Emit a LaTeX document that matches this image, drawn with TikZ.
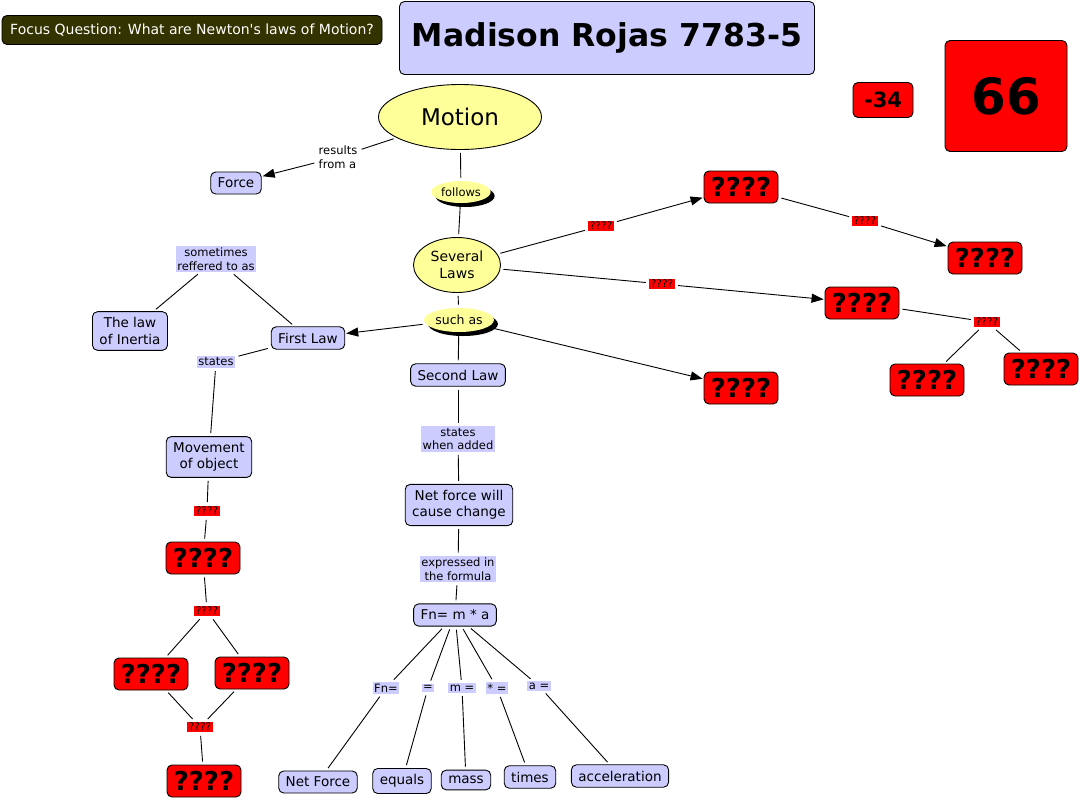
\documentclass[tikz,border=0pt]{standalone}
\usepackage{fontspec}
\setmainfont{DejaVu Sans}
\usetikzlibrary{arrows.meta, shapes.geometric, shadows}
\definecolor{lav}{HTML}{CCCCFF}
\definecolor{pale}{HTML}{FFFF99}
\definecolor{olive}{HTML}{333300}
\newcommand{\fs}[1]{\fontsize{#1}{1.2\dimexpr#1pt\relax}\selectfont}

\begin{document}
\begin{tikzpicture}[x=1pt, y=-1pt, line width=0.9pt,
    concept/.style={draw, rounded corners=5pt, fill=lav, font=\fs{13.5}, align=center,
      inner xsep=7pt, inner ysep=6pt},
    unknown/.style={draw, rounded corners=5pt, fill=red, font=\fs{26}\bfseries,
      minimum width=74pt, minimum height=32pt, inner sep=0pt},
    oval/.style={ellipse, draw, fill=pale, align=center, inner sep=0pt},
    shadowed/.style={ellipse, fill=pale, font=\fs{11.5}, inner sep=1pt,
      drop shadow={shadow xshift=4pt, shadow yshift=-4pt, fill=black, opacity=1}},
    linkname/.style={fill=lav, font=\fs{11.5}, align=center, inner sep=1.5pt},
    redlink/.style={fill=red, font=\fs{10.5}, inner sep=1.5pt},
    score/.style={draw, rounded corners=5pt, fill=red, font=\bfseries, inner sep=0pt},
    link/.style={shorten <=3pt, shorten >=3pt},
    arr/.style={shorten <=3pt, shorten >=1pt, -{Triangle[length=12pt, width=9pt]}}]
  \useasboundingbox (0,0) rectangle (1080,801);

  % header
  \node[draw, rounded corners=5pt, fill=olive, text=white, font=\fs{14},
    minimum width=380pt, minimum height=29pt] (focus) at (192,30)
    {Focus Question: What are Newton\textquotesingle s laws of Motion?};
  \node[draw, rounded corners=5pt, fill=lav, font=\fs{31.5}\bfseries,
    minimum width=415pt, minimum height=73pt] (name) at (607,38) {Madison Rojas 7783-5};
  \node[score, font=\fs{21}\bfseries, minimum width=60pt, minimum height=35pt] (minus) at (883,100) {-34};
  \node[score, font=\fs{50}\bfseries, minimum width=122pt, minimum height=111pt] (total) at (1006,96) {66};

  % concepts
  \node[oval, font=\fs{23}, minimum width=163pt, minimum height=65pt] (motion) at (460,117) {Motion};
  \node[fill=white, font=\fs{11.5}, align=left, inner sep=1pt] (results) at (338,157) {results\\from a};
  \node[concept] (force) at (236,183) {Force};
  \node[shadowed, minimum width=49pt, minimum height=22pt] (follows) at (461,192) {follows};
  \node[oval, font=\fs{14}, minimum width=87pt, minimum height=55pt] (laws) at (457,265) {Several\\Laws};
  \node[shadowed, font=\fs{12.5}, minimum width=56pt, minimum height=24pt] (suchas) at (459,320) {such as};
  \node[concept] (first) at (308,338) {First Law};
  \node[concept] (second) at (458,375) {Second Law};

  \node[unknown] (q1) at (741,187) {????};
  \node[unknown] (q2) at (985,258) {????};
  \node[unknown] (q3) at (862,303) {????};
  \node[unknown] (q4) at (927,380) {????};
  \node[unknown] (q5) at (1041,369) {????};
  \node[unknown] (q6) at (741,388) {????};
  \node[redlink] (l1) at (601,226) {????};
  \node[redlink] (l2) at (865,221) {????};
  \node[redlink] (l3) at (662,284) {????};
  \node[redlink] (l4) at (987,322) {????};

  \node[linkname] (referred) at (216,259) {sometimes\\reffered to as};
  \node[concept] (inertia) at (130,331) {The law\\of Inertia};
  \node[linkname] (states) at (216,362) {states};
  \node[concept] (movement) at (209,457) {Movement\\of object};
  \node[redlink] (l5) at (207,511) {????};
  \node[unknown] (q7) at (203,558) {????};
  \node[redlink] (l6) at (207,611) {????};
  \node[unknown] (q8) at (151,674) {????};
  \node[unknown] (q9) at (252,673) {????};
  \node[redlink] (l7) at (200,727) {????};
  \node[unknown] (q10) at (204,781) {????};

  \node[linkname] (added) at (458,439) {states\\when added};
  \node[concept] (netforce) at (459,505) {Net force will\\cause change};
  \node[linkname] (formula) at (458,569) {expressed in\\the formula};
  \node[concept] (fn) at (455,615) {Fn= m * a};
  \node[linkname] (fnis) at (386,688) {Fn=};
  \node[linkname] (eqis) at (428,688) {=};
  \node[linkname] (mis) at (462,688) {m =};
  \node[linkname] (timesis) at (497,688) {* =};
  \node[linkname] (ais) at (539,686) {a =};
  \node[concept] (netf) at (318,782) {Net Force};
  \node[concept] (equals) at (402,781) {equals};
  \node[concept] (mass) at (466,780) {mass};
  \node[concept] (times) at (530,777) {times};
  \node[concept] (accel) at (620,776) {acceleration};

  % connectors
  \draw[link] (motion) -- (results);
  \draw[arr] (results) -- (force);
  \draw[link] (motion) -- (follows);
  \draw[link] (follows) -- (laws);
  \draw[link] (laws) -- (suchas);
  \draw[arr] (suchas) -- (first);
  \draw[link] (suchas) -- (second);
  \draw[arr] (suchas) -- (q6);
  \draw[link] (laws) -- (l1);
  \draw[arr] (l1) -- (q1);
  \draw[link] (q1) -- (l2);
  \draw[arr] (l2) -- (q2);
  \draw[link] (laws) -- (l3);
  \draw[arr] (l3) -- (q3);
  \draw[link] (q3) -- (l4);
  \draw[link] (l4) -- (q4);
  \draw[link] (l4) -- (q5);

  \draw[link] (first) -- (referred);
  \draw[link] (referred) -- (inertia);
  \draw[link] (first) -- (states);
  \draw[link] (states) -- (movement);
  \draw[link] (movement) -- (l5);
  \draw[link] (l5) -- (q7);
  \draw[link] (q7) -- (l6);
  \draw[link] (l6) -- (q8);
  \draw[link] (l6) -- (q9);
  \draw[link] (q8) -- (l7);
  \draw[link] (q9) -- (l7);
  \draw[link] (l7) -- (q10);

  \draw[link] (second) -- (added);
  \draw[link] (added) -- (netforce);
  \draw[link] (netforce) -- (formula);
  \draw[link] (formula) -- (fn);
  \draw[link] (fn) -- (fnis);
  \draw[link] (fnis) -- (netf);
  \draw[link] (fn) -- (eqis);
  \draw[link] (eqis) -- (equals);
  \draw[link] (fn) -- (mis);
  \draw[link] (mis) -- (mass);
  \draw[link] (fn) -- (timesis);
  \draw[link] (timesis) -- (times);
  \draw[link] (fn) -- (ais);
  \draw[link] (ais) -- (accel);
\end{tikzpicture}
\end{document}
